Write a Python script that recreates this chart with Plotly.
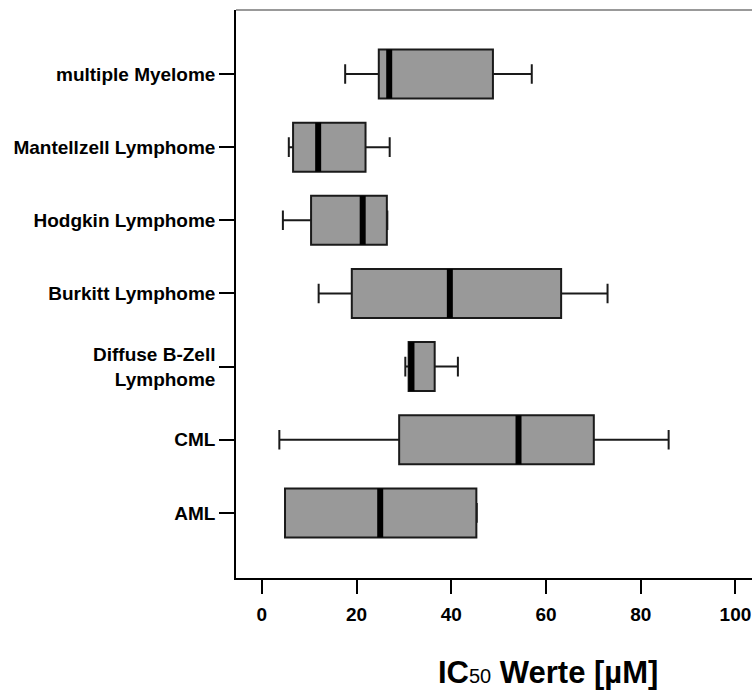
import plotly.graph_objects as go

# IC50 distributions per tumour entity (µM)
categories = ["AML", "CML", "Diffuse B-Zell<br>Lymphome", "Burkitt Lymphome",
              "Hodgkin Lymphome", "Mantellzell Lymphome", "multiple Myelome"]
lower_whisker = [4.9, 3.7, 30.3, 12.0, 4.45, 5.7, 17.6]
q1_values = [4.9, 29.0, 31.0, 19.0, 10.4, 6.6, 24.7]
median_values = [25.0, 54.2, 31.6, 39.7, 21.3, 11.9, 26.9]
q3_values = [45.3, 70.1, 36.5, 63.2, 26.4, 21.9, 48.8]
upper_whisker = [45.4, 85.9, 41.4, 73.0, 26.5, 27.0, 57.0]
x_ticks = [0, 20, 40, 60, 80, 100]

positions = list(range(len(categories)))
box_width = 0.67

fig = go.Figure()

fig.add_trace(go.Box(
    y=positions,
    q1=q1_values,
    median=median_values,
    q3=q3_values,
    lowerfence=lower_whisker,
    upperfence=upper_whisker,
    orientation="h",
    width=box_width,
    whiskerwidth=0.4,
    fillcolor="#999999",
    line=dict(color="#1a1a1a", width=2),
    boxpoints=False,
    hoverinfo="skip",
    showlegend=False,
))

# thick black median bars spanning the full box height
med_x, med_y = [], []
for p, m in zip(positions, median_values):
    med_x += [m, m, None]
    med_y += [p - box_width / 2, p + box_width / 2, None]

fig.add_trace(go.Scatter(
    x=med_x, y=med_y, mode="lines",
    line=dict(color="black", width=6),
    hoverinfo="skip", showlegend=False,
))

font_family = "Liberation Sans, Arial, sans-serif"

# axis title: small regular "50" sits on the baseline next to bold text
axis_title = ("<b>IC</b><span style='font-size:20px;font-weight:normal'>50</span>"
              "<b> Werte [µM]</b>")

fig.update_layout(
    width=752, height=697,
    margin=dict(l=236, r=0, t=10, b=119),
    paper_bgcolor="white",
    plot_bgcolor="white",
    font=dict(family=font_family, color="black"),
    showlegend=False,
    shapes=[dict(type="line", xref="paper", yref="paper",
                 x0=0, x1=1, y0=1, y1=1,
                 line=dict(color="#777777", width=1.5))],
    annotations=[dict(
        text=axis_title,
        xref="paper", yref="paper",
        x=(548 - 236) / 516, y=-0.2,
        xanchor="center", yanchor="bottom",
        showarrow=False,
        font=dict(family=font_family, size=31, color="black"),
    )],
)

fig.update_xaxes(
    range=[-5.45, 103.5],
    tickvals=x_ticks,
    ticktext=[f"<b>{v}</b>" for v in x_ticks],
    ticks="outside", ticklen=14, tickwidth=1.5, tickcolor="black",
    ticklabelstandoff=4,
    showline=True, linecolor="black", linewidth=1.5,
    showgrid=False, zeroline=False,
    tickfont=dict(family=font_family, size=19, color="black"),
)

fig.update_yaxes(
    range=[-0.89, 6.875],
    tickvals=positions,
    ticktext=[f"<b>{c}</b>" for c in categories],
    ticks="outside", ticklen=15, tickwidth=1.5, tickcolor="black",
    showline=True, linecolor="black", linewidth=1.5,
    showgrid=False, zeroline=False,
    tickfont=dict(family=font_family, size=19, color="black"),
)

fig.write_html("out.html")
